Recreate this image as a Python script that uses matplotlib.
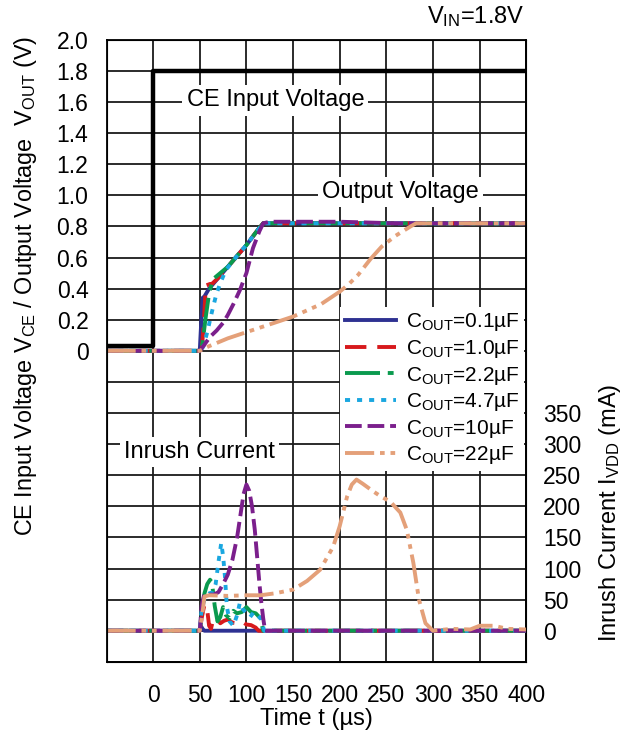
import numpy as np
import matplotlib
matplotlib.use("Agg")
import matplotlib.pyplot as plt

plt.rcParams['font.family'] = ['Liberation Sans', 'DejaVu Sans']
plt.rcParams['mathtext.default'] = 'regular'

# CE input voltage
t_ce = [-50, 0, 0, 400]
v_ce = [0.03, 0.03, 1.8, 1.8]

# output voltage (V) for each Cout
t_v01 = [-50, 50, 51, 53, 55, 60, 70, 80, 90, 100, 110, 118, 400]
v_v01 = [0, 0, 0.12, 0.34, 0.35, 0.40, 0.47, 0.54, 0.61, 0.68, 0.76, 0.82, 0.82]
t_v1 = [-50, 52, 54, 56.5, 61, 63, 70, 80, 90, 100, 110, 118, 400]
v_v1 = [0, 0, 0.15, 0.42, 0.43, 0.43, 0.47, 0.54, 0.61, 0.68, 0.76, 0.82, 0.82]
t_v22 = [-50, 51, 53, 56, 60, 64, 68, 80, 90, 100, 110, 118, 400]
v_v22 = [0, 0, 0.05, 0.2, 0.37, 0.46, 0.48, 0.54, 0.61, 0.68, 0.76, 0.82, 0.82]
t_v47 = [-50, 51, 54, 58, 63, 68, 73, 78, 90, 100, 110, 118, 400]
v_v47 = [0, 0, 0.03, 0.12, 0.25, 0.37, 0.45, 0.52, 0.61, 0.68, 0.76, 0.82, 0.82]
t_v10 = [-50, 50, 55, 61, 68, 75, 80, 86, 93, 100, 107, 114, 118, 125, 200, 260, 400]
v_v10 = [0, 0, 0.04, 0.09, 0.13, 0.18, 0.23, 0.30, 0.39, 0.50, 0.66, 0.77, 0.82, 0.83, 0.83, 0.82, 0.82]
t_v22u = [-50, 50, 60, 80, 100, 125, 150, 165, 180, 190, 200, 210, 220, 233, 245, 260, 276, 282, 400]
v_v22u = [0, 0, 0.03, 0.08, 0.12, 0.17, 0.22, 0.26, 0.30, 0.34, 0.38, 0.43, 0.49, 0.59, 0.67, 0.74, 0.80, 0.82, 0.82]

# inrush current (mA) for each Cout
t_i01 = [-50, 50, 51, 53, 55, 400]
i_i01 = [0, 0, 8, 3, 0, 0]
t_i1 = [-50, 50, 52, 55, 58, 60, 62, 65, 68, 72, 76, 80, 85, 90, 95, 100, 105, 110, 113, 400]
i_i1 = [0, 0, 20, 42, 33, 8, 3, 22, 20, 12, 16, 18, 13, 12, 15, 10, 9, 5, 0, 0]
t_i22 = [-50, 50, 52, 55, 58, 61, 63, 66, 69, 72, 75, 78, 82, 86, 90, 95, 100, 105, 110, 115, 118, 400]
i_i22 = [0, 0, 30, 60, 75, 82, 78, 40, 15, 22, 38, 25, 20, 32, 28, 30, 38, 30, 28, 20, 0, 0]
t_i47 = [-50, 50, 52, 56, 60, 64, 67, 70, 73, 75, 77, 79, 82, 86, 90, 93, 96, 100, 104, 108, 112, 116, 119, 400]
i_i47 = [0, 0, 35, 55, 60, 62, 75, 110, 141, 120, 87, 39, 15, 8, 25, 45, 35, 28, 22, 30, 25, 18, 0, 0]
t_i10 = [-50, 50, 52, 55, 60, 65, 70, 75, 80, 85, 90, 94, 97, 100, 103, 106, 109, 112, 114, 116, 118, 120, 400]
i_i10 = [0, 0, 40, 60, 58, 58, 62, 75, 90, 114, 150, 190, 220, 235, 225, 200, 162, 110, 75, 45, 20, 0, 0]
t_i22u = [-50, 50, 53, 55, 60, 80, 100, 115, 130, 150, 165, 179, 193, 200, 208, 213, 218, 225, 236, 245,
          254, 265, 272, 279, 285, 292, 300, 320, 340, 350, 365, 380, 400]
i_i22u = [0, 0, 30, 55, 57, 56, 57, 57, 60, 66, 80, 98, 135, 168, 216, 235, 243, 236, 224, 215,
          208, 190, 162, 109, 50, 12, 0, 3, 2, 8, 8, 3, 2]

labels = ['C$_{OUT}$=0.1µF', 'C$_{OUT}$=1.0µF', 'C$_{OUT}$=2.2µF',
          'C$_{OUT}$=4.7µF', 'C$_{OUT}$=10µF', 'C$_{OUT}$=22µF']
colors = ['#2e3192', '#d7191c', '#0a9a4e', '#1aa7e0', '#7b1f8c', '#e4a079']
styles = ['-', (0, (5.5, 2.8)), (0, (9, 2, 1.5, 2)), (0, (1.3, 1.8)), (0, (4.3, 1.5)),
          (0, (7.5, 1.5, 1.2, 1.5, 1.2, 1.5))]

volt_t = [t_v01, t_v1, t_v22, t_v47, t_v10, t_v22u]
volt_v = [v_v01, v_v1, v_v22, v_v47, v_v10, v_v22u]
cur_t = [t_i01, t_i1, t_i22, t_i47, t_i10, t_i22u]
cur_i = [i_i01, i_i1, i_i22, i_i47, i_i10, i_i22u]

fig = plt.figure(figsize=(6.34, 7.37), dpi=100)
ax = fig.add_axes([0.168, 0.102, 0.662, 0.844])

yt = np.round(np.arange(-2.0, 2.01, 0.2), 1)
ax.set_yticks(yt)
ax.set_yticklabels(['0' if v == 0 else ('%.1f' % v if v > 0 else '') for v in yt])
ax.set_xticks(np.arange(-50, 401, 50))
ax.set_xticklabels([''] + [str(v) for v in range(0, 401, 50)])
ax.set_xlim(-50, 400)
ax.set_ylim(-2.0, 2.0)
ax.grid(True, color='#1a1a1a', lw=1.3)
ax.set_axisbelow(True)
ax.tick_params(length=0, labelsize=16.5)
ax.tick_params(axis='y', pad=13)
ax.tick_params(axis='x', pad=16)
for s in ax.spines.values():
    s.set_linewidth(1.3)

handles = []
for i in range(6):
    h, = ax.plot(volt_t[i], volt_v[i], color=colors[i], ls=styles[i], lw=2.8, label=labels[i])
    handles.append(h)
ax.plot(t_ce, v_ce, color='black', lw=3.2, zorder=4)

box = dict(facecolor='white', edgecolor='none', pad=3)
ax.text(131, 1.61, 'CE Input Voltage', fontsize=17, ha='center', va='center', bbox=box, zorder=3)
ax.text(265, 1.02, 'Output Voltage', fontsize=17, ha='center', va='center', bbox=box, zorder=3)
ax.text(50, -0.65, 'Inrush Current', fontsize=17, ha='center', va='center', bbox=box, zorder=3)

ax.set_xlabel('Time t (µs)', fontsize=17)
ax.xaxis.set_label_coords(0.5, -0.092)
ax.xaxis.label.set_va('center')
ax.set_ylabel('CE Input Voltage V$_{CE}$ / Output Voltage  V$_{OUT}$ (V)', fontsize=16.8)
ax.yaxis.set_label_coords(-0.194, 0.604)
ax.yaxis.label.set_va('center')

ax2 = ax.twinx()
ax2.set_ylim(-50, 950)
ax2.set_yticks(np.arange(0, 351, 50))
ax2.tick_params(length=0, labelsize=16.5, pad=12)
for i in range(6):
    ax2.plot(cur_t[i], cur_i[i], color=colors[i], ls=styles[i], lw=2.8)
ax2.set_ylabel('Inrush Current I$_{VDD}$ (mA)', fontsize=17, rotation=90)
ax2.yaxis.set_label_coords(1.2, 0.239)
ax2.yaxis.label.set_va('center')
ax2.yaxis.label.set_ha('center')

leg = ax2.legend(handles, labels, loc='upper right', bbox_to_anchor=(0.995, 0.57), fontsize=15,
                 frameon=True, framealpha=1, edgecolor='none', fancybox=False, borderaxespad=0,
                 borderpad=0.2, labelspacing=0.22, handlelength=2.45, handletextpad=0.5)
leg.set_zorder(10)

fig.text(0.828, 0.977, 'V$_{IN}$=1.8V', fontsize=17, ha='right', va='center')

fig.savefig('out.png', dpi=100)
